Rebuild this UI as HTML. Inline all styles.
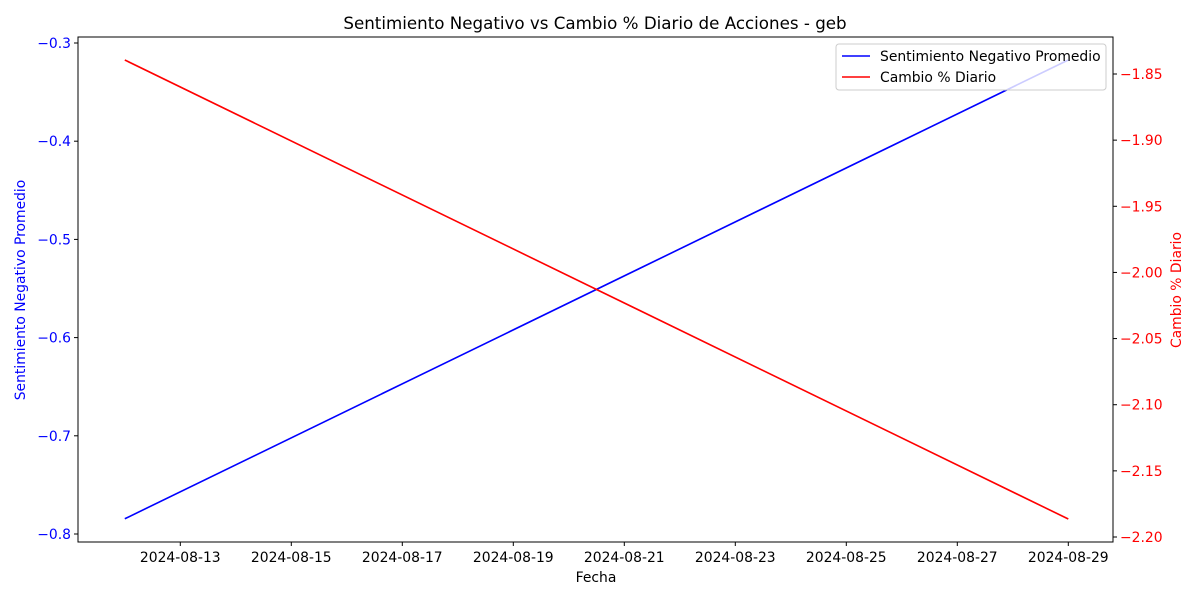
<!DOCTYPE html>
<html><head><meta charset="utf-8"><style>
body{margin:0;background:#fff;font-family:"Liberation Sans","DejaVu Sans",sans-serif}
svg text{font-family:"DejaVu Sans","Liberation Sans",sans-serif}
</style></head><body>
<svg id="chart" width="1200" height="600" xmlns="http://www.w3.org/2000/svg">
<rect width="1200" height="600" fill="#fff"/>
<g id="g"></g>
</svg>
<script>
const dates = ["2024-08-12","2024-08-29"];
const sentiment = [-0.7845,-0.3173];
const change = [-1.8394,-2.1864];
const xTicks = ["2024-08-13","2024-08-15","2024-08-17","2024-08-19","2024-08-21","2024-08-23","2024-08-25","2024-08-27","2024-08-29"];
const leftTicks = [-0.8,-0.7,-0.6,-0.5,-0.4,-0.3];
const rightTicks = [-2.20,-2.15,-2.10,-2.05,-2.00,-1.95,-1.90,-1.85];

const L=78,R=1113,T=37,B=542;
const FS=13.9;
const g=document.getElementById('g');
const NS='http://www.w3.org/2000/svg';
function mk(tag,attrs,txt){const e=document.createElementNS(NS,tag);for(const k in attrs)e.setAttribute(k,attrs[k]);if(txt!==undefined)e.textContent=txt;g.appendChild(e);return e;}
const day0=Date.UTC(2024,7,13);
function xs(d){const t=Date.parse(d+"T00:00:00Z");return 180.3+(t-day0)/86400000*55.5;}
function yl(v){return 534+(v+0.8)/0.5*(43-534);}
function yr(v){return 537+(v+2.2)/0.35*(74-537);}

let e;
e=mk('rect',{x:L,y:T,width:R-L,height:B-T,fill:'none',stroke:'#000','stroke-width':1});



xTicks.forEach(t=>{const x=xs(t);
 e=mk('line',{x1:x,x2:x,y1:B,y2:B+4,stroke:'#000'});
 
 
 e=mk('text',{x:x,y:B+20,'text-anchor':'middle','font-size':FS,fill:'#000'},t);
 
 
});
leftTicks.forEach(v=>{const y=yl(v);
 e=mk('line',{x1:L-4,x2:L,y1:y,y2:y,stroke:'#000'});
 
 
 e=mk('text',{x:L-7,y:y+5,'text-anchor':'end','font-size':FS,fill:'blue'},'\u2212'+Math.abs(v).toFixed(1));
 
 
});
rightTicks.forEach(v=>{const y=yr(v);
 e=mk('line',{x1:R,x2:R+4,y1:y,y2:y,stroke:'#000'});
 
 
 e=mk('text',{x:R+7,y:y+5,'text-anchor':'start','font-size':FS,fill:'red'},'\u2212'+Math.abs(v).toFixed(2));
 
 
});

e=mk('polyline',{points:dates.map((d,i)=>xs(d)+','+yl(sentiment[i])).join(' '),fill:'none',stroke:'blue','stroke-width':1.6});


e=mk('polyline',{points:dates.map((d,i)=>xs(d)+','+yr(change[i])).join(' '),fill:'none',stroke:'red','stroke-width':1.6});



e=mk('text',{x:595,y:29,'text-anchor':'middle','font-size':16.7,fill:'#000'},'Sentimiento Negativo vs Cambio % Diario de Acciones - geb');


e=mk('text',{x:596,y:582,'text-anchor':'middle','font-size':FS,fill:'#000'},'Fecha');


e=mk('text',{x:25,y:290,'text-anchor':'middle','font-size':FS,fill:'blue',transform:'rotate(-90 25 290)'},'Sentimiento Negativo Promedio');


e=mk('text',{x:1181,y:290,'text-anchor':'middle','font-size':FS,fill:'red',transform:'rotate(-90 1181 290)'},'Cambio % Diario');



e=mk('rect',{x:836,y:44,width:270,height:46,rx:3,fill:'#fff','fill-opacity':0.8,stroke:'#ccc'});


e=mk('line',{x1:842,x2:870,y1:56,y2:56,stroke:'blue','stroke-width':1.6});


e=mk('text',{x:880,y:61,'font-size':FS,fill:'#000'},'Sentimiento Negativo Promedio');


e=mk('line',{x1:842,x2:870,y1:77,y2:77,stroke:'red','stroke-width':1.6});


e=mk('text',{x:880,y:82,'font-size':FS,fill:'#000'},'Cambio % Diario');


</script>
</body></html>
